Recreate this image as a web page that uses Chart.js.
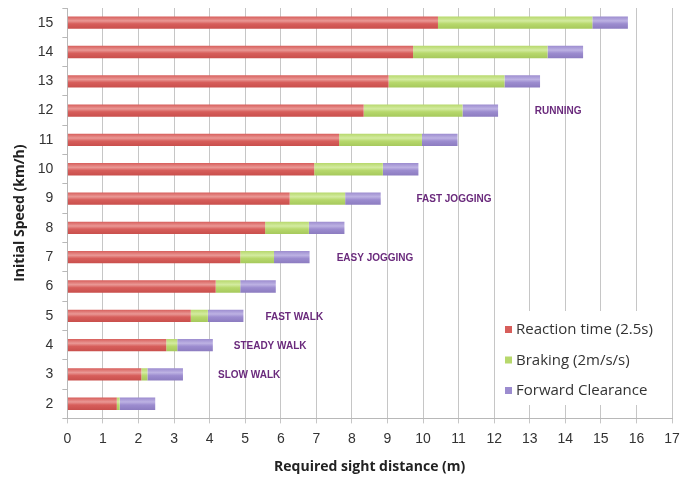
<!DOCTYPE html>
<html>
<head>
<meta charset="utf-8">
<script src="https://cdn.jsdelivr.net/npm/chart.js@4"></script>
<style>
  html, body { margin: 0; padding: 0; background: #fff; }
  #wrap { width: 689px; height: 477px; }
</style>
</head>
<body>
<div id="wrap"><canvas id="c" width="689" height="477"></canvas></div>
<script>
// Initial walking/running speed (km/h)
const speeds = ['2', '3', '4', '5', '6', '7', '8', '9', '10', '11', '12', '13', '14', '15'];
// Distance covered during 2.5 s reaction time (m)
const reactionTime = [1.39, 2.08, 2.78, 3.47, 4.17, 4.86, 5.56, 6.25, 6.94, 7.64, 8.33, 9.03, 9.72, 10.42];
// Braking distance at 2 m/s/s (m)
const braking = [0.08, 0.17, 0.31, 0.48, 0.69, 0.95, 1.23, 1.56, 1.93, 2.33, 2.78, 3.26, 3.78, 4.34];
// Forward clearance (m)
const clearance = [1, 1, 1, 1, 1, 1, 1, 1, 1, 1, 1, 1, 1, 1];
const seriesNames = ['Reaction time (2.5s)', 'Braking (2m/s/s)', 'Forward Clearance'];
const xTicks = [0, 1, 2, 3, 4, 5, 6, 7, 8, 9, 10, 11, 12, 13, 14, 15, 16, 17];

// Activity labels and the speed row they sit on
const activityNames = ['RUNNING', 'FAST JOGGING', 'EASY JOGGING', 'FAST WALK', 'STEADY WALK', 'SLOW WALK'];
const activitySpeeds = ['12', '9', '7', '5', '4', '3'];
const activityX = [13.8, 10.87, 8.65, 6.38, 5.7, 5.11];

// base, highlight and shade tone for each series
const colors = ['#d75e5b', '#b7d86c', '#9c8ccf'];
const lightColors = ['#ea9895', '#d3eba0', '#bdb2e3'];
const darkColors = ['#c94f4c', '#a6c95c', '#8c7cc0'];

// Give every bar a soft vertical sheen across its thickness
const sheenPlugin = {
  id: 'sheen',
  beforeDatasetsDraw(chart) {
    const { ctx } = chart;
    chart.data.datasets.forEach((ds, i) => {
      const meta = chart.getDatasetMeta(i);
      meta.data.forEach(el => {
        const top = el.y - el.height / 2;
        const g = ctx.createLinearGradient(0, top, 0, top + el.height);
        g.addColorStop(0, colors[i]);
        g.addColorStop(0.35, lightColors[i]);
        g.addColorStop(0.6, colors[i]);
        g.addColorStop(1, darkColors[i]);
        el.options = Object.assign({}, el.options, { backgroundColor: g });
      });
    });
  }
};

const activityPlugin = {
  id: 'activities',
  afterDatasetsDraw(chart) {
    const { ctx, scales } = chart;
    ctx.save();
    ctx.font = 'bold 10px "Liberation Sans", Arial, sans-serif';
    ctx.fillStyle = '#6a2a7c';
    ctx.textAlign = 'center';
    ctx.textBaseline = 'middle';
    activityNames.forEach((name, i) => {
      const x = scales.x.getPixelForValue(activityX[i]);
      const y = scales.y.getPixelForValue(speeds.indexOf(activitySpeeds[i]));
      ctx.fillText(name, x, y + 1);
    });
    ctx.restore();
  }
};

const legendPlugin = {
  id: 'boxLegend',
  afterDatasetsDraw(chart) {
    const { ctx } = chart;
    const left = 498, top = 311, w = 172, h = 94;
    ctx.save();
    ctx.fillStyle = '#ffffff';
    ctx.fillRect(left, top, w, h);
    ctx.font = '15px "Open Sans", "Liberation Sans", sans-serif';
    ctx.textBaseline = 'middle';
    ctx.textAlign = 'left';
    chart.data.datasets.forEach((ds, i) => {
      const y = top + 19 + i * 30.5;
      ctx.fillStyle = colors[i];
      ctx.fillRect(left + 7, y - 4, 7, 7);
      ctx.fillStyle = '#333333';
      ctx.fillText(ds.label, left + 18, y);
    });
    ctx.restore();
  }
};

new Chart(document.getElementById('c'), {
  type: 'bar',
  data: {
    labels: speeds,
    datasets: [
      { label: seriesNames[0], data: reactionTime, backgroundColor: colors[0] },
      { label: seriesNames[1], data: braking, backgroundColor: colors[1] },
      { label: seriesNames[2], data: clearance, backgroundColor: colors[2] }
    ]
  },
  options: {
    indexAxis: 'y',
    responsive: false,
    animation: false,
    layout: { padding: { top: 8, right: 17, left: 12, bottom: 2 } },
    datasets: { bar: { barPercentage: 0.42, categoryPercentage: 1.0, borderWidth: 0 } },
    plugins: {
      legend: { display: false },
      tooltip: { enabled: false }
    },
    scales: {
      x: {
        stacked: true,
        min: 0,
        max: 17,
        afterBuildTicks(axis) { axis.ticks = xTicks.map(v => ({ value: v })); },
        grid: { color: '#c6c6c6', lineWidth: 1, tickLength: 5, drawTicks: true },
        border: { color: '#b8b8b8' },
        ticks: {
          color: '#333',
          font: { family: '"Liberation Sans", Arial, sans-serif', size: 14 },
          padding: 7,
          maxRotation: 0
        },
        title: {
          display: true,
          text: 'Required sight distance (m)',
          color: '#222',
          font: { family: '"Open Sans", "Liberation Sans", sans-serif', size: 14, weight: 'bold' },
          padding: { top: 4, bottom: 0 }
        }
      },
      y: {
        stacked: true,
        reverse: true,
        // categories are offset, so no room is needed above/below for label overhang
        afterFit(scale) { scale.paddingTop = 0; scale.paddingBottom = 0; },
        grid: { offset: true, drawOnChartArea: false, color: '#b8b8b8', tickLength: 5 },
        border: { color: '#b8b8b8' },
        ticks: {
          color: '#333',
          font: { family: '"Liberation Sans", Arial, sans-serif', size: 14 },
          padding: 9
        },
        title: {
          display: true,
          text: 'Initial Speed (km/h)',
          color: '#222',
          font: { family: '"Open Sans", "Liberation Sans", sans-serif', size: 14, weight: 'bold' },
          padding: { top: 0, bottom: 0 }
        }
      }
    }
  },
  plugins: [sheenPlugin, activityPlugin, legendPlugin]
});
</script>
</body>
</html>
